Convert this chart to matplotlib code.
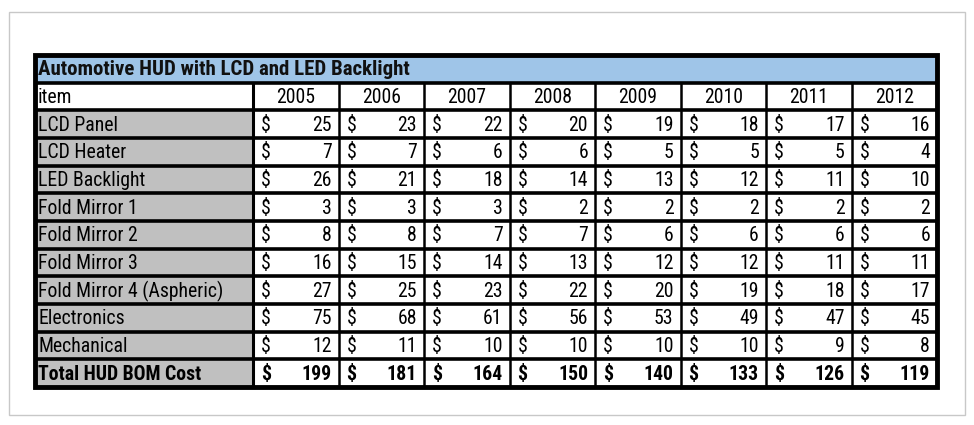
import matplotlib
matplotlib.use("Agg")
import matplotlib.pyplot as plt
from matplotlib.patches import Rectangle
from matplotlib import font_manager

# table contents
title = "Automotive HUD with LCD and LED Backlight"
years = ["2005", "2006", "2007", "2008", "2009", "2010", "2011", "2012"]
items = ["LCD Panel", "LCD Heater", "LED Backlight", "Fold Mirror 1", "Fold Mirror 2",
         "Fold Mirror 3", "Fold Mirror 4 (Aspheric)", "Electronics", "Mechanical"]
lcd_panel = [25, 23, 22, 20, 19, 18, 17, 16]
lcd_heater = [7, 7, 6, 6, 5, 5, 5, 4]
led_backlight = [26, 21, 18, 14, 13, 12, 11, 10]
fold_mirror_1 = [3, 3, 3, 2, 2, 2, 2, 2]
fold_mirror_2 = [8, 8, 7, 7, 6, 6, 6, 6]
fold_mirror_3 = [16, 15, 14, 13, 12, 12, 11, 11]
fold_mirror_4 = [27, 25, 23, 22, 20, 19, 18, 17]
electronics = [75, 68, 61, 56, 53, 49, 47, 45]
mechanical = [12, 11, 10, 10, 10, 10, 9, 8]
total_label = "Total HUD BOM Cost"
total = [199, 181, 164, 150, 140, 133, 126, 119]

rows = [lcd_panel, lcd_heater, led_backlight, fold_mirror_1, fold_mirror_2,
        fold_mirror_3, fold_mirror_4, electronics, mechanical]

# narrow font like Arial Narrow, if one is around
names = {f.name for f in font_manager.fontManager.ttflist}
fam = "Liberation Sans"
for cand in ["Liberation Sans Narrow", "Arial Narrow", "Roboto Condensed", "PT Sans Narrow"]:
    if cand in names:
        fam = cand
        break
plt.rcParams['font.family'] = [fam, 'DejaVu Sans']

fig = plt.figure(figsize=(9.74, 4.25), dpi=100)
ax = fig.add_axes([0, 0, 1, 1])
ax.set_xlim(0, 974)
ax.set_ylim(425, 0)
ax.axis("off")

# outer light frame
ax.add_patch(Rectangle((9, 12), 956, 403, fill=False, ec="#c8c8c8", lw=1.0))

left, right = 35, 937
top, bottom = 55, 387
item_w = 218
col_w = (right - left - item_w) / len(years)
n_rows = len(rows) + 3
row_h = (bottom - top) / n_rows
fs = 14.2

def ry(i):
    return top + i * row_h + row_h / 2 + 1

# title row
ax.add_patch(Rectangle((left, top), right - left, row_h, fc="#9fc5e8", ec="none"))
ax.text(left + 3, ry(0), title, fontsize=15, fontweight="bold",
        va="center", ha="left", color="#111111")

# header row
ax.text(left + 3, ry(1), "item", fontsize=fs, va="center", ha="left")
for j, y in enumerate(years):
    cx = left + item_w + (j + 0.5) * col_w
    ax.text(cx, ry(1), y, fontsize=fs, va="center", ha="center")

# data rows + total
all_rows = rows + [total]
all_names = items + [total_label]
for i, (name, vals) in enumerate(zip(all_names, all_rows)):
    r = i + 2
    bold = "bold" if name == total_label else "normal"
    ax.add_patch(Rectangle((left, top + r * row_h), item_w, row_h, fc="#c0c0c0", ec="none"))
    ax.text(left + 3, ry(r), name, fontsize=fs, fontweight=bold, va="center", ha="left")
    for j, v in enumerate(vals):
        x0 = left + item_w + j * col_w
        ax.text(x0 + 8, ry(r), "$", fontsize=fs, fontweight=bold, va="center", ha="left")
        ax.text(x0 + col_w - 7, ry(r), str(v), fontsize=fs, fontweight=bold,
                va="center", ha="right")

# grid lines
for r in range(1, n_rows):
    yy = top + r * row_h
    ax.plot([left, right], [yy, yy], color="black", lw=2.6, solid_capstyle="butt")
ax.plot([left + item_w] * 2, [top + row_h, bottom], color="black", lw=2.2)
for j in range(1, len(years)):
    x = left + item_w + j * col_w
    ax.plot([x, x], [top + row_h, bottom], color="black", lw=1.8)
ax.add_patch(Rectangle((left, top), right - left, bottom - top, fill=False,
                       ec="black", lw=3.5))

fig.savefig("out.png", dpi=100)
